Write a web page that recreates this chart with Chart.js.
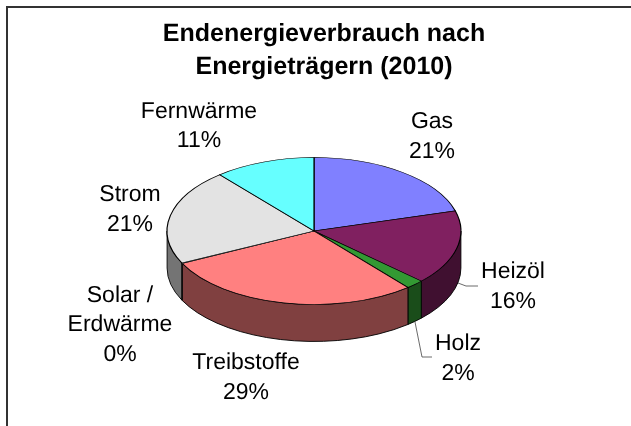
<!DOCTYPE html>
<html><head><meta charset="utf-8">
<style>html,body{margin:0;padding:0;background:#fff}canvas{display:block}</style>
<script src="https://cdn.jsdelivr.net/npm/chart.js@4"></script></head>
<body><canvas id="c" width="631" height="426"></canvas>
<script>
const categories = ["Gas","Heizöl","Holz","Treibstoffe","Solar / Erdwärme","Strom","Fernwärme"];
const values = [20.6,16.4,2.0,28.8,0.1,21.1,11.1];
const percentLabels = ["21%","16%","2%","29%","0%","21%","11%"];
const topColors = ["#8080FF","#802060","#339933","#FF8080","#C0C0C0","#E3E3E3","#66FFFF"];
const wallColors = ["#404080","#401030","#1A4D1A","#804040","#606060","#747474","#338080"];
const titleLines = ["Endenergieverbrauch nach","Energieträgern (2010)"];

const SQUASH = 0.5, CX = 314, CY = 231, DEPTH = 37;
const labelLayout = [
  {x:432,y:[122,152],t:["Gas"]},
  {x:513,y:[272,302],t:["Heizöl"]},
  {x:458,y:[344,374],t:["Holz"]},
  {x:246,y:[363,393],t:["Treibstoffe"]},
  {x:120,y:[296,325,355],t:["Solar /","Erdwärme"]},
  {x:130,y:[195,225],t:["Strom"]},
  {x:199,y:[112,141],t:["Fernwärme"]}
];
const leaders = [[[458,283],[466,286],[478,286]],[[415,322],[422,357],[432,357]]];

const pie3d = {
  id:'pie3d',
  beforeDraw(chart){
    const c = chart.ctx;
    c.textRendering = 'geometricPrecision';
    c.save(); c.strokeStyle='#333'; c.lineWidth=2;
    c.beginPath(); c.moveTo(631,7); c.lineTo(7,7); c.lineTo(7,426); c.stroke(); c.restore();
  },
  beforeDatasetsDraw(chart){
    const c = chart.ctx, arcs = chart.getDatasetMeta(0).data;
    arcs.forEach((a,i)=>{
      const s = Math.max(a.startAngle,0), e = Math.min(a.endAngle,Math.PI);
      if (e <= s) return;
      const r = a.outerRadius, ry = r*SQUASH;
      c.beginPath();
      c.ellipse(CX,CY,r,ry,0,s,e,false);
      c.ellipse(CX,CY+DEPTH,r,ry,0,e,s,true);
      c.closePath();
      c.fillStyle = wallColors[i]; c.fill();
      c.strokeStyle = '#000'; c.lineWidth = 0.9; c.stroke();
    });
    c.save();
    c.translate(CX,CY); c.scale(1,SQUASH); c.translate(-arcs[0].x,-arcs[0].y);
  },
  afterDatasetsDraw(chart){ chart.ctx.restore(); },
  afterDraw(chart){
    const c = chart.ctx;
    c.save();
    c.strokeStyle='#444'; c.lineWidth=0.8;
    leaders.forEach(l=>{c.beginPath();l.forEach((p,i)=>i?c.lineTo(p[0],p[1]):c.moveTo(p[0],p[1]));c.stroke();});
    c.fillStyle='#000'; c.font='23px "Liberation Sans"'; c.textAlign='center'; c.textBaseline='middle';
    labelLayout.forEach((l,i)=>{
      const lines = l.t.concat(percentLabels[i]);
      lines.forEach((t,j)=>c.fillText(t,l.x,l.y[j]));
    });
    c.restore();
  }
};

new Chart(document.getElementById('c'),{
  type:'pie',
  data:{labels:categories,datasets:[{data:values,backgroundColor:topColors,borderColor:'#000',borderWidth:1.2,borderJoinStyle:'miter'}]},
  plugins:[pie3d],
  options:{
    responsive:false,animation:false,
    layout:{padding:{left:30,right:13,top:0,bottom:48}},
    plugins:{
      legend:{display:false},tooltip:{enabled:false},
      title:{display:true,text:titleLines,color:'#000',align:'center',
        font:{family:'"Liberation Sans"',size:25,weight:'bold',lineHeight:1.3},padding:{top:18,bottom:0}}
    }
  }
});
</script></body></html>
